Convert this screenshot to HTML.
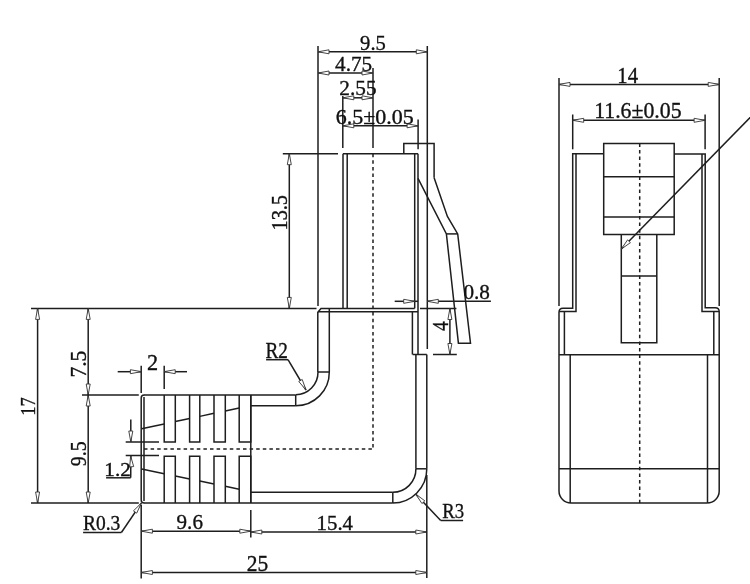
<!DOCTYPE html>
<html><head><meta charset="utf-8"><style>
html,body{margin:0;padding:0;background:#fff;}
svg{display:block;will-change:transform;}
path{fill:none;stroke:#1e1e1e;stroke-width:1.5;}
path.ar{stroke-width:0.9;stroke:#333;fill:#fff;}
text{font-family:"Liberation Serif",serif;fill:#111;stroke:#111;stroke-width:0.35px;}
</style></head><body>
<svg width="750" height="584" viewBox="0 0 750 584">
<path d="M318.00 46.00 L318.00 306.00"/>
<path d="M427.30 46.00 L427.30 349.00"/>
<path d="M318.00 51.80 L427.30 51.80"/>
<path class="ar" d="M318.00 51.80 L329.00 49.80 L329.00 53.80 Z"/>
<path class="ar" d="M427.30 51.80 L416.30 53.80 L416.30 49.80 Z"/>
<text transform="translate(372.85 42.65) rotate(0) scale(0.9456 1)" x="-13.50" y="7.02" font-size="21.78">9.5</text>
<path d="M373.00 68.00 L373.00 148.00"/>
<path d="M318.00 73.00 L373.00 73.00"/>
<path class="ar" d="M318.00 73.00 L329.00 71.00 L329.00 75.00 Z"/>
<path class="ar" d="M373.00 73.00 L362.00 75.00 L362.00 71.00 Z"/>
<text transform="translate(353.40 63.65) rotate(0) scale(0.9861 1)" x="-18.58" y="6.93" font-size="21.48">4.75</text>
<path d="M342.80 96.00 L342.80 148.00"/>
<path d="M342.80 97.80 L373.00 97.80"/>
<path class="ar" d="M342.80 97.80 L353.80 95.80 L353.80 99.80 Z"/>
<path class="ar" d="M373.00 97.80 L362.00 99.80 L362.00 95.80 Z"/>
<text transform="translate(357.95 88.65) rotate(0) scale(1.0207 1)" x="-18.33" y="6.74" font-size="20.89">2.55</text>
<path d="M418.10 119.50 L418.10 149.30"/>
<path d="M342.80 125.80 L418.10 125.80"/>
<path class="ar" d="M342.80 125.80 L353.80 123.80 L353.80 127.80 Z"/>
<path class="ar" d="M418.10 125.80 L407.10 127.80 L407.10 123.80 Z"/>
<text transform="translate(374.70 116.90) rotate(0) scale(1.0821 1)" x="-36.02" y="6.60" font-size="20.29">6.5±0.05</text>
<path d="M343.00 153.70 L418.00 153.70"/>
<path d="M343.00 153.70 L343.00 308.40"/>
<path d="M347.20 153.70 L347.20 308.40"/>
<path d="M414.70 153.70 L414.70 308.40"/>
<path d="M418.00 153.70 L418.00 354.50"/>
<path d="M373.00 153.70 L373.00 448.60" stroke-dasharray="3.5 3.1"/>
<path d="M403.80 153.70 L403.80 143.40 L434.10 143.40 L434.10 177.70"/>
<path d="M434.10 177.70 L447.40 216.40 L457.70 233.90 L470.50 343.20 L458.40 343.20 L446.40 233.90 L418.00 178.30" stroke-width="1.2"/>
<path d="M446.40 233.90 L457.70 233.90"/>
<path d="M282.80 153.70 L338.00 153.70"/>
<path d="M289.30 153.70 L289.30 308.40"/>
<path class="ar" d="M289.30 153.70 L291.30 164.70 L287.30 164.70 Z"/>
<path class="ar" d="M289.30 308.40 L287.30 297.40 L291.30 297.40 Z"/>
<text transform="translate(279.90 212.30) rotate(-90) scale(0.9138 1)" x="-19.94" y="7.17" font-size="22.22">13.5</text>
<path d="M394.70 301.30 L418.00 301.30"/>
<path d="M427.30 301.30 L490.90 301.30"/>
<path class="ar" d="M414.70 301.30 L403.70 303.30 L403.70 299.30 Z"/>
<path class="ar" d="M427.30 301.30 L438.30 299.30 L438.30 303.30 Z"/>
<text transform="translate(476.70 292.35) rotate(0) scale(0.9940 1)" x="-13.33" y="6.93" font-size="21.32">0.8</text>
<path d="M420.00 308.50 L456.40 308.50"/>
<path d="M433.00 354.50 L456.80 354.50"/>
<path d="M449.90 308.50 L449.90 354.50"/>
<path class="ar" d="M449.90 308.50 L451.90 319.50 L447.90 319.50 Z"/>
<path class="ar" d="M449.90 354.50 L447.90 343.50 L451.90 343.50 Z"/>
<text transform="translate(440.80 326.25) rotate(-90) scale(0.8652 1)" x="-5.59" y="7.30" font-size="22.12">4</text>
<path d="M31.00 308.40 L316.50 308.40"/>
<path d="M37.60 308.40 L37.60 503.00"/>
<path class="ar" d="M37.60 308.40 L39.60 319.40 L35.60 319.40 Z"/>
<path class="ar" d="M37.60 503.00 L35.60 492.00 L39.60 492.00 Z"/>
<text transform="translate(28.45 405.90) rotate(-90) scale(0.8927 1)" x="-10.95" y="6.85" font-size="20.76">17</text>
<path d="M88.20 308.40 L88.20 395.00"/>
<path class="ar" d="M88.20 308.40 L90.20 319.40 L86.20 319.40 Z"/>
<path class="ar" d="M88.20 395.00 L86.20 384.00 L90.20 384.00 Z"/>
<text transform="translate(78.65 363.85) rotate(-90) scale(0.9700 1)" x="-14.18" y="7.12" font-size="22.24">7.5</text>
<path d="M88.20 395.00 L88.20 503.00"/>
<path class="ar" d="M88.20 395.00 L90.20 406.00 L86.20 406.00 Z"/>
<path class="ar" d="M88.20 503.00 L86.20 492.00 L90.20 492.00 Z"/>
<text transform="translate(78.65 453.90) rotate(-90) scale(0.8865 1)" x="-13.87" y="7.21" font-size="22.37">9.5</text>
<path d="M82.00 395.00 L138.80 395.00"/>
<path d="M31.00 503.00 L138.80 503.00"/>
<path d="M317.80 372.00 L317.80 312.30 L321.00 308.40 L414.70 308.40"/>
<path d="M318.00 311.80 L418.00 311.80"/>
<path d="M329.30 308.40 L329.30 372.00"/>
<path d="M318.00 372.00 L329.30 372.00"/>
<path stroke-width="1.05" d="M318.00 372.00 A22.60 22.60 0 0 1 295.70 394.80"/>
<path stroke-width="1.05" d="M329.30 372.00 A33.60 33.60 0 0 1 295.70 405.80"/>
<path d="M144.00 395.00 L295.70 395.00"/>
<path d="M250.80 405.80 L295.70 405.80"/>
<path d="M295.70 395.00 L295.70 405.80"/>
<path d="M412.40 311.80 L412.40 354.50"/>
<path d="M412.60 354.50 L426.80 354.50"/>
<path d="M415.90 354.50 L415.90 468.80"/>
<path d="M426.80 354.50 L426.80 468.80"/>
<path d="M415.90 468.80 L426.80 468.80"/>
<path stroke-width="1.05" d="M415.90 468.80 A23.20 23.20 0 0 1 392.80 492.30"/>
<path stroke-width="1.05" d="M426.80 468.80 A34.20 34.20 0 0 1 392.80 503.00"/>
<path d="M250.80 492.30 L392.80 492.30"/>
<path d="M144.00 503.00 L392.80 503.00"/>
<path d="M392.80 492.30 L392.80 503.00"/>
<path d="M141.2 398 L141.2 500 Q141.2 503 144.2 503 M141.2 398 Q141.2 395 144.2 395"/>
<path d="M144.00 397.00 L144.00 501.00" stroke-width="0.7" stroke="#b0b0b0"/>
<path d="M250.80 395.00 L250.80 503.00"/>
<path d="M164.20 395.00 L164.20 442.00 L175.30 442.00 L175.30 395.00"/>
<path d="M164.20 503.00 L164.20 456.30 L175.30 456.30 L175.30 503.00"/>
<path d="M189.60 395.00 L189.60 442.00 L199.80 442.00 L199.80 395.00"/>
<path d="M189.60 503.00 L189.60 456.30 L199.80 456.30 L199.80 503.00"/>
<path d="M214.00 395.00 L214.00 442.00 L225.30 442.00 L225.30 395.00"/>
<path d="M214.00 503.00 L214.00 456.30 L225.30 456.30 L225.30 503.00"/>
<path d="M239.20 395.00 L239.20 442.00 L250.80 442.00 L250.80 395.00"/>
<path d="M239.20 503.00 L239.20 456.30 L250.80 456.30 L250.80 503.00"/>
<path d="M144.00 449.00 L372.70 449.00" stroke-dasharray="3.5 3.1"/>
<path d="M141.60 428.80 L164.20 423.97" stroke-width="0.95"/>
<path d="M141.60 469.00 L164.20 473.68" stroke-width="0.95"/>
<path d="M175.30 421.60 L189.60 418.55" stroke-width="0.95"/>
<path d="M175.30 475.98 L189.60 478.94" stroke-width="0.95"/>
<path d="M199.80 416.37 L214.00 413.34" stroke-width="0.95"/>
<path d="M199.80 481.05 L214.00 483.99" stroke-width="0.95"/>
<path d="M225.30 410.92 L239.20 407.95" stroke-width="0.95"/>
<path d="M225.30 486.33 L239.20 489.20" stroke-width="0.95"/>
<path d="M141.20 365.70 L141.20 393.00"/>
<path d="M164.20 365.70 L164.20 389.00"/>
<path d="M117.70 371.70 L141.40 371.70"/>
<path class="ar" d="M141.40 371.70 L130.40 373.70 L130.40 369.70 Z"/>
<path d="M164.20 371.70 L187.00 371.70"/>
<path class="ar" d="M164.20 371.70 L175.20 369.70 L175.20 373.70 Z"/>
<text transform="translate(152.55 362.45) rotate(0) scale(0.9856 1)" x="-5.53" y="7.45" font-size="22.58">2</text>
<path d="M125.70 442.00 L159.00 442.00"/>
<path d="M125.70 455.50 L159.00 455.50"/>
<path d="M130.80 419.40 L130.80 442.00"/>
<path class="ar" d="M130.80 442.00 L128.80 431.00 L132.80 431.00 Z"/>
<path d="M130.70 477.80 L130.90 455.80"/>
<path class="ar" d="M130.60 455.80 L133.68 466.55 L129.70 466.94 Z"/>
<path d="M106.10 477.80 L130.70 477.80"/>
<text transform="translate(117.85 469.15) rotate(0) scale(1.0745 1)" x="-12.61" y="6.35" font-size="19.70">1.2</text>
<text transform="translate(101.55 522.90) rotate(0) scale(0.9451 1)" x="-19.61" y="6.69" font-size="20.59">R0.3</text>
<path d="M83.10 532.50 L121.40 532.50"/>
<path d="M121.40 532.50 L141.40 503.00" stroke-width="1.1"/>
<path class="ar" d="M141.40 503.00 L136.71 513.15 L133.44 510.85 Z"/>
<path d="M141.20 505.00 L141.20 578.60"/>
<path d="M141.40 531.20 L250.80 531.20"/>
<path class="ar" d="M141.40 531.20 L152.40 529.20 L152.40 533.20 Z"/>
<path class="ar" d="M250.80 531.20 L239.80 533.20 L239.80 529.20 Z"/>
<path d="M250.80 509.90 L250.80 537.60"/>
<text transform="translate(189.75 521.75) rotate(0) scale(0.9685 1)" x="-13.61" y="7.02" font-size="21.78">9.6</text>
<path d="M250.80 532.00 L426.80 532.00"/>
<path class="ar" d="M250.80 532.00 L261.80 530.00 L261.80 534.00 Z"/>
<path class="ar" d="M426.80 532.00 L415.80 534.00 L415.80 530.00 Z"/>
<text transform="translate(335.50 523.00) rotate(0) scale(0.9639 1)" x="-19.68" y="6.98" font-size="21.63">15.4</text>
<path d="M426.80 475.00 L426.80 578.00"/>
<path d="M141.40 572.50 L426.80 572.50"/>
<path class="ar" d="M141.40 572.50 L152.40 570.50 L152.40 574.50 Z"/>
<path class="ar" d="M426.80 572.50 L415.80 574.50 L415.80 570.50 Z"/>
<text transform="translate(257.50 563.45) rotate(0) scale(0.9632 1)" x="-11.17" y="7.23" font-size="22.24">25</text>
<text transform="translate(276.50 350.55) rotate(0) scale(0.8096 1)" x="-13.56" y="7.85" font-size="23.79">R2</text>
<path d="M266.10 359.70 L288.00 359.70"/>
<path d="M288.00 359.70 L306.00 390.00" stroke-width="1.1"/>
<path class="ar" d="M306.00 390.00 L298.75 381.49 L302.21 379.48 Z"/>
<text transform="translate(453.05 511.35) rotate(0) scale(0.8533 1)" x="-12.67" y="7.13" font-size="21.94">R3</text>
<path d="M440.70 520.50 L463.10 520.50"/>
<path d="M440.70 520.50 L415.80 494.20" stroke-width="1.1"/>
<path class="ar" d="M415.80 494.20 L424.83 500.80 L421.93 503.55 Z"/>
<path d="M559.00 78.00 L559.00 306.00"/>
<path d="M719.20 78.00 L719.20 306.00"/>
<path d="M559.00 84.40 L719.20 84.40"/>
<path class="ar" d="M559.00 84.40 L570.00 82.40 L570.00 86.40 Z"/>
<path class="ar" d="M719.20 84.40 L708.20 86.40 L708.20 82.40 Z"/>
<text transform="translate(628.40 75.45) rotate(0) scale(0.9154 1)" x="-12.08" y="7.45" font-size="22.58">14</text>
<path d="M572.70 114.50 L572.70 149.30"/>
<path d="M705.10 114.50 L705.10 149.30"/>
<path d="M572.70 120.30 L705.10 120.30"/>
<path class="ar" d="M572.70 120.30 L583.70 118.30 L583.70 122.30 Z"/>
<path class="ar" d="M705.10 120.30 L694.10 122.30 L694.10 118.30 Z"/>
<text transform="translate(638.35 110.90) rotate(0) scale(0.9503 1)" x="-46.51" y="7.46" font-size="22.94">11.6±0.05</text>
<path d="M603.7 153.7 L572.7 153.7 L572.7 308.2 L563 308.2 Q559 308.2 559 312.2 L559 491"/>
<path d="M576.00 153.70 L576.00 311.50 L559.00 311.50"/>
<path d="M564.40 311.50 L564.40 354.80"/>
<path d="M674.2 153.9 L705.2 153.9 L705.2 307.8 L715.2 307.8 Q719.2 307.8 719.2 311.8 L719.2 491"/>
<path d="M702.00 153.90 L702.00 311.60 L719.20 311.60"/>
<path d="M713.80 311.60 L713.80 354.80"/>
<path d="M603.70 153.70 L603.70 143.40 L674.20 143.40 L674.20 234.40 L603.70 234.40 L603.70 153.70"/>
<path d="M603.70 176.70 L674.20 176.70"/>
<path d="M603.70 217.10 L674.20 217.10"/>
<path d="M621.30 234.40 L621.30 342.80 L656.80 342.80 L656.80 234.40"/>
<path d="M621.30 276.10 L656.80 276.10"/>
<path d="M639.70 143.40 L639.70 503.00" stroke-dasharray="3.5 3.1"/>
<path d="M559.00 354.80 L719.20 354.80"/>
<path d="M570.20 354.80 L570.20 503.00"/>
<path d="M707.50 354.80 L707.50 503.00"/>
<path d="M559.00 468.80 L719.20 468.80"/>
<path d="M559.00 491.00 L559.00 491.00"/>
<path stroke-width="1.05" d="M559.00 491.00 A12.00 12.00 0 0 0 571.00 503.00"/>
<path d="M571.00 503.00 L707.20 503.00"/>
<path stroke-width="1.05" d="M707.20 503.00 A12.00 12.00 0 0 0 719.20 491.00"/>
<path d="M752.00 115.60 L621.30 249.10" stroke-width="0.95"/>
<path class="ar" d="M621.30 249.10 L627.57 239.85 L630.43 242.65 Z"/>
</svg></body></html>
